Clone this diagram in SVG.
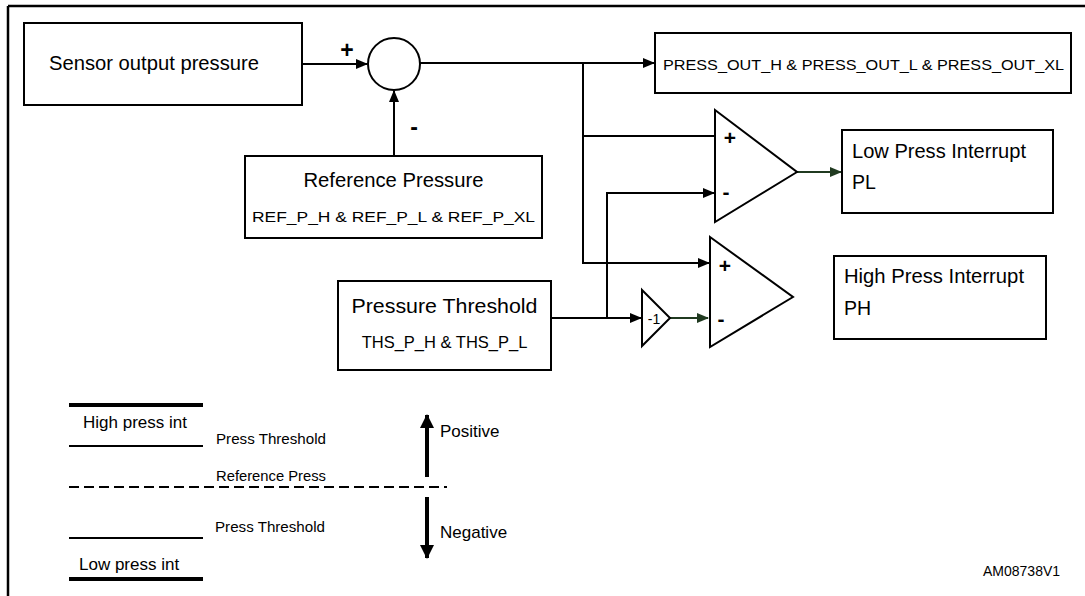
<svg xmlns="http://www.w3.org/2000/svg" width="1085" height="596" viewBox="0 0 1085 596">
<style>
text{font-family:"Liberation Sans",Arial,sans-serif;fill:#000}
.box{fill:#fff;stroke:#000;stroke-width:2}
.ln{fill:none;stroke:#000;stroke-width:2}
.gr{fill:none;stroke:#203a20;stroke-width:2}
.sign{font-weight:bold;text-anchor:middle}
.lbl{font-size:19px}
.mid{text-anchor:middle}
</style>
<defs>
<marker id="ah" markerUnits="userSpaceOnUse" markerWidth="12" markerHeight="10" refX="11" refY="5" orient="auto">
<path d="M0,0 L12,5 L0,10 Z" fill="#000"/>
</marker>
<marker id="ahg" markerUnits="userSpaceOnUse" markerWidth="12" markerHeight="10" refX="11" refY="5" orient="auto">
<path d="M0,0 L12,5 L0,10 Z" fill="#203a20"/>
</marker>
<marker id="big" markerUnits="userSpaceOnUse" markerWidth="14" markerHeight="14" refX="13" refY="7" orient="auto">
<path d="M0,0 L14,7 L0,14 Z" fill="#000"/>
</marker>
</defs>

<g id="frame">
<path d="M8,6 H1085 M8,6 V596" fill="none" stroke="#000" stroke-width="2.5"/>
</g>

<g id="connectors">
<line class="ln" x1="302" y1="64" x2="367" y2="64" marker-end="url(#ah)"/>
<line class="ln" x1="394" y1="156" x2="394" y2="91" marker-end="url(#ah)"/>
<line class="ln" x1="420" y1="63" x2="654" y2="63" marker-end="url(#ah)"/>
<polyline class="ln" points="583,63 583,263 709,263" marker-end="url(#ah)"/>
<line class="ln" x1="583" y1="136" x2="715" y2="136"/>
<line class="ln" x1="551" y1="318" x2="641" y2="318" marker-end="url(#ah)"/>
<polyline class="ln" points="607,318 607,193 714,193" marker-end="url(#ah)"/>
<line class="gr" x1="670" y1="318" x2="708" y2="318" marker-end="url(#ahg)"/>
<line class="gr" x1="797" y1="172" x2="841" y2="172" marker-end="url(#ahg)"/>
</g>

<g id="sensor">
<rect class="box" x="24" y="23" width="278" height="82"/>
<text x="49" y="70" font-size="20" textLength="210" lengthAdjust="spacingAndGlyphs">Sensor output pressure</text>
</g>

<g id="summer">
<circle cx="394" cy="64" r="26" fill="#fff" stroke="#000" stroke-width="2"/>
<text class="sign" x="347" y="58" font-size="23">+</text>
<text class="sign" x="414" y="135" font-size="23">-</text>
</g>

<g id="reference">
<rect class="box" x="245" y="156" width="297" height="82"/>
<text class="mid" x="393.5" y="187" font-size="20" textLength="180" lengthAdjust="spacingAndGlyphs">Reference Pressure</text>
<text class="mid" x="393.5" y="222" font-size="15" textLength="283" lengthAdjust="spacingAndGlyphs">REF_P_H &amp; REF_P_L &amp; REF_P_XL</text>
</g>

<g id="press-out">
<rect class="box" x="655" y="33" width="416" height="60"/>
<text class="mid" x="863.5" y="70" font-size="15" textLength="401" lengthAdjust="spacingAndGlyphs">PRESS_OUT_H &amp; PRESS_OUT_L &amp; PRESS_OUT_XL</text>
</g>

<g id="comparator-low">
<polygon points="715,110 797,172 715,222" fill="#fff" stroke="#000" stroke-width="2"/>
<text class="sign" x="730" y="145" font-size="21">+</text>
<text class="sign" x="726" y="199" font-size="21">-</text>
</g>

<g id="low-interrupt">
<rect class="box" x="842" y="130" width="211" height="83"/>
<text x="852" y="158" font-size="19.5" textLength="174" lengthAdjust="spacingAndGlyphs">Low Press Interrupt</text>
<text x="852" y="189" font-size="19.5">PL</text>
</g>

<g id="threshold">
<rect class="box" x="338" y="281" width="213" height="89"/>
<text class="mid" x="444.5" y="313" font-size="20.5" textLength="186" lengthAdjust="spacingAndGlyphs">Pressure Threshold</text>
<text class="mid" x="444.5" y="348" font-size="16.5">THS_P_H &amp; THS_P_L</text>
</g>

<g id="inverter">
<polygon points="642,290 670,318 642,346" fill="#fff" stroke="#000" stroke-width="2"/>
<text class="mid" x="654" y="323.5" font-size="14">-1</text>
</g>

<g id="comparator-high">
<polygon points="710,237 793,297 710,347" fill="#fff" stroke="#000" stroke-width="2"/>
<text class="sign" x="725" y="273" font-size="21">+</text>
<text class="sign" x="721" y="326" font-size="21">-</text>
</g>

<g id="high-interrupt">
<rect class="box" x="834" y="256" width="212" height="83"/>
<text x="844" y="283" font-size="19.5" textLength="180" lengthAdjust="spacingAndGlyphs">High Press Interrupt</text>
<text x="844" y="315" font-size="19.5">PH</text>
</g>

<g id="legend">
<line x1="69" y1="405" x2="203" y2="405" stroke="#000" stroke-width="4"/>
<text x="83" y="428" font-size="17">High press int</text>
<line x1="69" y1="446" x2="203" y2="446" stroke="#000" stroke-width="2"/>
<text x="216" y="444" font-size="14" textLength="110" lengthAdjust="spacingAndGlyphs">Press Threshold</text>
<text x="216" y="481" font-size="14" textLength="110" lengthAdjust="spacingAndGlyphs">Reference Press</text>
<line x1="69" y1="487" x2="447" y2="487" stroke="#000" stroke-width="2" stroke-dasharray="10,5"/>
<text x="215" y="532" font-size="14" textLength="110" lengthAdjust="spacingAndGlyphs">Press Threshold</text>
<line x1="69" y1="538" x2="203" y2="538" stroke="#000" stroke-width="2"/>
<text x="79" y="570" font-size="17">Low press int</text>
<line x1="69" y1="579" x2="203" y2="579" stroke="#000" stroke-width="4"/>
<line x1="427" y1="477" x2="427" y2="415" stroke="#000" stroke-width="4" marker-end="url(#big)"/>
<text x="440" y="437" font-size="17">Positive</text>
<line x1="427" y1="497" x2="427" y2="558" stroke="#000" stroke-width="4" marker-end="url(#big)"/>
<text x="440" y="538" font-size="17">Negative</text>
</g>

<g id="figure-id">
<text x="983" y="576" font-size="14">AM08738V1</text>
</g>
</svg>
